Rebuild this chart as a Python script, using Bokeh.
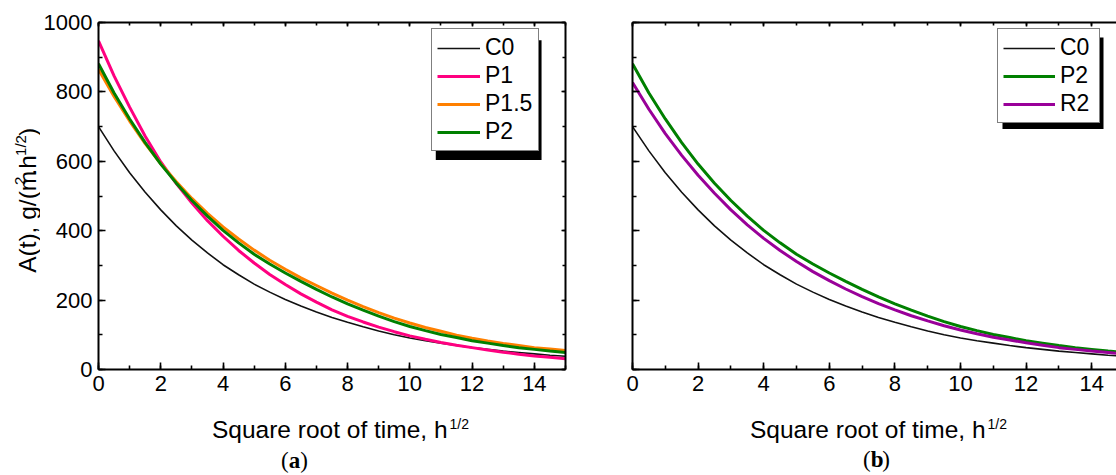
import math
from bokeh.plotting import figure
from bokeh.models import Range1d, LinearAxis, SingleIntervalTicker, Label, Legend, LegendItem, BoxAnnotation
from bokeh.layouts import row, column
from bokeh.embed import file_html
from bokeh.resources import INLINE

# ---------------- data ----------------
sqrt_time = [0, 0.5, 1, 1.5, 2, 2.5, 3, 3.5, 4, 4.5, 5, 5.5, 6, 6.5, 7, 7.5, 8, 8.5, 9, 9.5,
             10, 10.5, 11, 11.5, 12, 12.5, 13, 13.5, 14, 14.5, 15]
C0 = [700, 630, 567, 511, 460, 414, 373, 336, 302, 273, 246, 223, 202, 183, 166, 150, 136, 123, 111, 100,
      91, 83, 76, 69, 63, 58, 53, 49, 45, 41, 38]
P1 = [947, 846, 756, 672, 598, 536, 480, 429, 384, 343, 307, 274, 245, 218, 194, 172, 153, 137, 122, 109,
      97, 87, 78, 70, 63, 56, 50, 44, 39, 35, 31]
P1_5 = [865, 787, 716, 651, 593, 541, 493, 450, 411, 376, 344, 315, 289, 264, 242, 220, 200, 181, 164, 148,
        134, 121, 110, 99, 90, 82, 75, 69, 63, 59, 55]
P2 = [881, 797, 722, 654, 592, 537, 487, 442, 401, 365, 332, 304, 278, 254, 231, 209, 189, 171, 154, 138,
      124, 112, 101, 92, 83, 76, 69, 63, 58, 53, 49]
R2 = [827, 750, 680, 617, 560, 508, 460, 417, 378, 343, 311, 282, 256, 232, 210, 190, 172, 155, 140, 126,
      114, 103, 93, 85, 77, 70, 63, 58, 53, 49, 45]

series_a = [("C0", C0), ("P1", P1), ("P1.5", P1_5), ("P2", P2)]
series_b = [("C0", C0), ("P2", P2), ("R2", R2)]
colors = {"C0": "#111111", "P1": "#FF0080", "P1.5": "#FF8000", "P2": "#008000", "R2": "#990099"}
widths = {"C0": 1.6, "P1": 3, "P1.5": 3, "P2": 3, "R2": 3}

x_label_text = "Square root of time, h"
x_label_sup = "1/2"
y_label_pieces = [("A(t), g/(m", False), ("2", True), (".h", False), ("1/2", True), (")", False)]
panel_tags = ["a", "b"]

SANS = "Liberation Sans"
SERIF = "Liberation Serif"
ADV = {'A': 667, '(': 333, 't': 278, ')': 333, ',': 278, ' ': 278, 'g': 556, '/': 278,
       'm': 833, '.': 278, 'h': 556, '1': 556, '2': 556, 'S': 667, 'q': 556, 'u': 556,
       'a': 556, 'r': 333, 'e': 556, 'o': 556, 'f': 278, 'i': 222}


def tw(s, size):
    return sum(ADV[c] for c in s) * size / 1000.0


TOP_H = 415
BOT_H = 475 - TOP_H
YSTRIP_W = 40
BASE_FIX = 0.35   # Label anchor sits this many em above the drawn baseline


def new_fig(width, mbl, mbr, mbt, mbb, x_end):
    p = figure(width=width, height=TOP_H, x_range=Range1d(0, x_end), y_range=Range1d(0, 1000),
               output_backend="svg", toolbar_location=None,
               x_axis_location=None, y_axis_location=None,
               min_border_left=mbl, min_border_right=mbr, min_border_top=mbt, min_border_bottom=mbb,
               background_fill_color="white", border_fill_color="white", outline_line_color=None)
    p.grid.visible = False
    return p


def text_canvas(width, height, x0, y0):
    # a plain canvas whose data coordinates are page pixels (y grows downward)
    p = figure(width=width, height=height, x_range=Range1d(x0, x0 + width), y_range=Range1d(y0 + height, y0),
               output_backend="svg", toolbar_location=None,
               x_axis_location=None, y_axis_location=None,
               min_border=0, min_border_left=0, min_border_right=0, min_border_top=0, min_border_bottom=0,
               background_fill_color="white", border_fill_color="white", outline_line_color=None)
    p.grid.visible = False
    return p


def add_axis(p, place, interval, labels, tin, tmin, standoff=6):
    ax = LinearAxis(ticker=SingleIntervalTicker(interval=interval, num_minor_ticks=2))
    ax.axis_line_width = 2
    ax.axis_line_color = "black"
    ax.major_tick_in = tin
    ax.major_tick_out = 0
    ax.minor_tick_in = tmin
    ax.minor_tick_out = 0
    ax.major_tick_line_width = 1.6
    ax.minor_tick_line_width = 1.6
    ax.major_label_text_font = SANS
    ax.major_label_text_font_size = "22px"
    ax.major_label_text_line_height = 1.0
    if labels:
        ax.major_label_text_color = "black"
        ax.major_label_standoff = standoff
    else:
        ax.major_label_text_color = None   # mirrored ticks only, no labels
        ax.major_label_standoff = 0
    p.add_layout(ax, place)
    return ax


def add_legend(p, renderers, names, loc, glyph_w, label_w):
    items = [LegendItem(label=n, renderers=[r]) for n, r in zip(names, renderers)]
    lg = Legend(items=items, location=loc, orientation="vertical",
                label_text_font=SANS, label_text_font_size="23px", label_text_color="black",
                glyph_width=glyph_w, glyph_height=20, label_height=20, label_width=label_w,
                label_standoff=5, padding=5, spacing=1, margin=0,
                border_line_color="black", border_line_width=1.5,
                background_fill_color="white", background_fill_alpha=1.0)
    p.add_layout(lg)
    return lg


def put(p, x, y, text, size, font=SANS, style="normal", rotated=False):
    # (x, y) is the start of the text on its baseline, in page pixels
    if rotated:
        x = x - BASE_FIX * size
        angle = math.pi / 2
    else:
        y = y - BASE_FIX * size
        angle = 0.0
    p.add_layout(Label(x=x, y=y, text=text, text_font=font, text_font_size=f"{size}px",
                       text_font_style=style, text_color="black", text_align="left",
                       text_baseline="alphabetic", angle=angle))


# ---------------- panel (a) ----------------
pa = new_fig(558, 97 - YSTRIP_W, 33, 22, TOP_H - 375, 15)
ax_a = lambda px: (px - 97) / 31.2
ay_a = lambda py: (375 - py) / 0.353

add_axis(pa, "below", 2, True, 7, 4, standoff=6)
add_axis(pa, "left", 200, True, 7, 4, standoff=6)
add_axis(pa, "above", 2, False, 4, 3)
add_axis(pa, "right", 200, False, 4, 3)

pa.add_layout(BoxAnnotation(left=ax_a(435), right=ax_a(541), top=ay_a(40), bottom=ay_a(162),
                            fill_color="black", fill_alpha=1.0, line_alpha=0, level="underlay"))
rends_a = []
for name, ys in series_a:
    rends_a.append(pa.line(sqrt_time, ys, line_color=colors[name], line_width=widths[name]))
add_legend(pa, rends_a, [n for n, _ in series_a], (333, 218), 43, 48)

# ---------------- panel (b) ----------------
xb_end = 484 / 32.8
pb = new_fig(518, 34, 0, 20, TOP_H - 369, xb_end)
ax_b = lambda px: (px - 632) / 32.8
ay_b = lambda py: (369 - py) / 0.349

add_axis(pb, "below", 2, True, 7, 4, standoff=6)
add_axis(pb, "left", 200, False, 7, 4)
add_axis(pb, "above", 2, False, 4, 3)

pb.add_layout(BoxAnnotation(left=ax_b(1002), right=ax_b(1103), top=ay_b(35), bottom=ay_b(127),
                            fill_color="black", fill_alpha=1.0, line_alpha=0, level="underlay"))
rends_b = []
for name, ys in series_b:
    rends_b.append(pb.line(sqrt_time, ys, line_color=colors[name], line_width=widths[name]))
add_legend(pb, rends_b, [n for n, _ in series_b], (365, 246), 52, 34)

# ---------------- y label strip (left of panel a) ----------------
ys_fig = text_canvas(YSTRIP_W, TOP_H, 0, 0)
MAIN, SUP = 24.5, 15
gap = 3
total = sum(tw(t, SUP if s else MAIN) + (2 * gap if s else 0) for t, s in y_label_pieces)
pos = 213.5 + total / 2
for t, s in y_label_pieces:
    size = SUP if s else MAIN
    if s:
        pos -= gap
    put(ys_fig, 36 - (11 if s else 0), pos, t, size, rotated=True)
    pos -= tw(t, size)
    if s:
        pos -= gap

# ---------------- bottom strip: x labels and panel tags ----------------
bs = text_canvas(1116, BOT_H, 0, TOP_H)


def x_label(center, base):
    main_w = tw(x_label_text, 24.5)
    sup_w = tw(x_label_sup, 14)
    start = center - (main_w + 2 + sup_w) / 2
    put(bs, start, base, x_label_text, 24.5)
    put(bs, start + main_w + 2, base - 9.5, x_label_sup, 14)


def tag(center, base, t):
    size = 23
    w1 = 333 * size / 1000.0
    w2 = 500 * size / 1000.0
    start = center - (2 * w1 + w2) / 2
    put(bs, start, base, "(", size, SERIF)
    put(bs, start + w1, base, t, size, SERIF, "bold")
    put(bs, start + w1 + w2, base, ")", size, SERIF)


x_label(340, 438)
x_label(878, 438)
tag(294, 468, panel_tags[0])
tag(876, 467, panel_tags[1])

layout = column(row(ys_fig, pa, pb, spacing=0), bs, spacing=0)
open("out.html", "w").write(file_html(layout, INLINE))
